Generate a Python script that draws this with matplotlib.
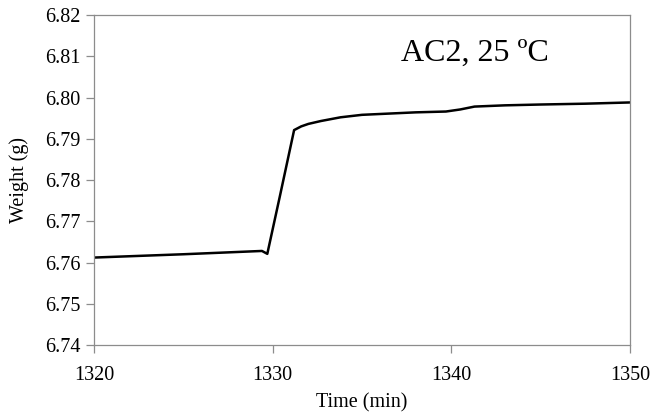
import matplotlib
matplotlib.use("Agg")
import numpy as np
from matplotlib import pyplot as plt

plt.rcParams['font.family'] = ['Liberation Serif', 'DejaVu Serif']

# weight trace
time_min = [1320.0, 1325.0, 1329.4, 1329.7, 1330.4, 1331.2, 1331.6, 1332.0,
            1332.7, 1333.8, 1335.0, 1336.5, 1338.0, 1339.7, 1340.5, 1341.3,
            1343.0, 1345.0, 1347.5, 1350.0]
weight_g = [6.7612, 6.7620, 6.7628, 6.7621, 6.7760, 6.7921, 6.7930, 6.7936,
            6.7943, 6.7952, 6.7958, 6.7961, 6.7964, 6.7966, 6.7971, 6.7978,
            6.7981, 6.7983, 6.7985, 6.7988]

x_ticks = [1320, 1330, 1340, 1350]
y_ticks = np.round(np.arange(6.74, 6.8201, 0.01), 2)

fig = plt.figure(figsize=(6.52, 4.19), dpi=100)
ax = fig.add_axes([0.1442, 0.1766, 0.822, 0.7876])

ax.plot(time_min, weight_g, color='black', lw=1.8, solid_joinstyle='round')

ax.set_xlim(1320, 1350)
ax.set_ylim(6.74, 6.82)
ax.set_xticks(x_ticks)
ax.set_yticks(y_ticks)
ax.set_yticklabels([f"{v:.2f}" for v in y_ticks])

for s in ax.spines.values():
    s.set_color('#8c8c8c')
    s.set_linewidth(0.9)
ax.tick_params(axis='both', colors='#8c8c8c', labelcolor='black',
               labelsize=14.5, direction='out', length=6, width=0.9)
ax.tick_params(axis='x', pad=9)
ax.tick_params(axis='y', pad=4)

ax.set_xlabel('Time (min)', fontsize=14.5, labelpad=6)
ax.set_ylabel('Weight (g)', fontsize=14.5, labelpad=11)

ax.text(1341.3, 6.8108, 'AC2, 25 ºC', fontsize=23, ha='center', va='center')

fig.savefig('out.png', dpi=100)
